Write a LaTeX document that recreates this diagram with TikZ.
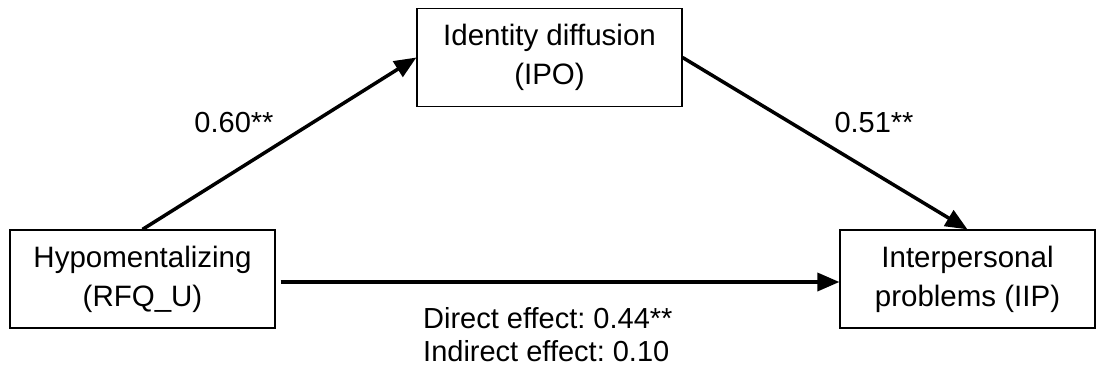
\documentclass[tikz,border=0pt]{standalone}
\usepackage{fontspec}
\setmainfont{Liberation Sans}
\usepackage{tikz}
\usetikzlibrary{shapes, positioning, calc}
\usetikzlibrary{arrows.meta}
\frenchspacing

\begin{document}
\begin{tikzpicture}[x=1pt, y=-1pt,
        box/.style={draw, line width=1.2pt, align=center, inner sep=0pt,
            minimum width=265pt, minimum height=98pt,
            font=\fontsize{29.5}{39}\selectfont},
        path/.style={line width=3.5pt, -{Triangle[length=22pt, width=18pt]}},
        coef/.style={font=\fontsize{29}{33}\selectfont, inner sep=0pt}]
        \useasboundingbox (0,0) rectangle (1096,372);

        \node[box] (hyp) at (142.5,279) {Hypomentalizing\\(RFQ\_U)};
        \node[box] (ipo) at (549.5,57.5) {Identity diffusion\\(IPO)};
        \node[box, minimum width=255pt] (iip) at (967.5,279) {Interpersonal\\problems (IIP)};

        \node[coef] (a) at (234,123) {0.60**};
        \node[coef] (b) at (874,123) {0.51**};
        \node[coef, align=left, anchor=north west] (c) at (423,307) {Direct effect: 0.44**\\Indirect effect: 0.10};

        \draw[path] (hyp.north) -- (ipo.west);
        \draw[path] (ipo.east) -- (iip.north);
        \draw[path] ([xshift=5pt, yshift=-3pt]hyp.east) -- ([yshift=-3pt]iip.west);
    \end{tikzpicture}
\end{document}
